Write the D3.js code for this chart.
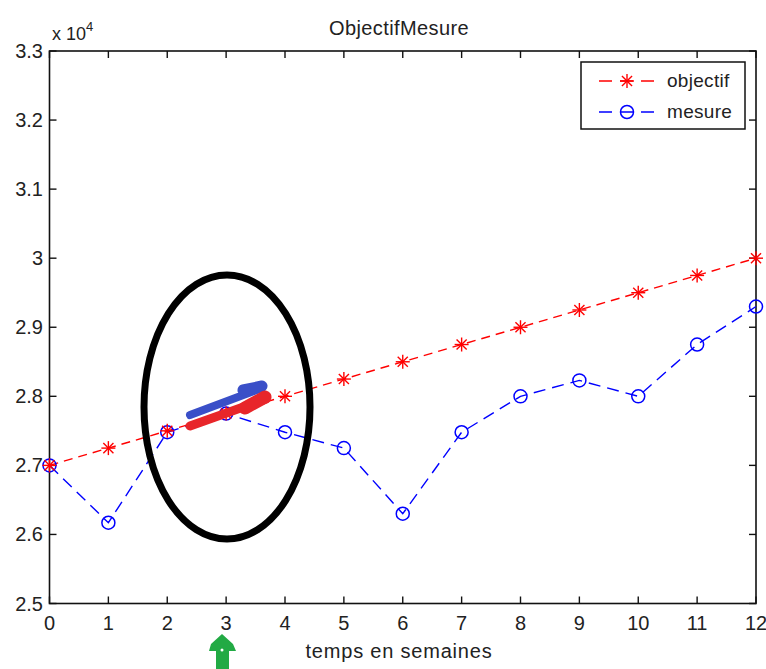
<!DOCTYPE html>
<html><head><meta charset="utf-8">
<script src="https://cdn.jsdelivr.net/npm/d3@7"></script>
<style>body{margin:0;background:#fff}svg{display:block}text{font-family:"Liberation Sans",Arial,sans-serif;fill:#222}</style>
</head><body><svg id="c" width="766" height="669"></svg>
<script>
const weeks = [0,1,2,3,4,5,6,7,8,9,10,11,12];
const objectif = [27000,27250,27500,27750,28000,28250,28500,28750,29000,29250,29500,29750,30000];
const mesure = [27000,26170,27480,27750,27480,27250,26300,27480,28000,28230,28000,28750,29300];
const yTicks = [25000,26000,27000,28000,29000,30000,31000,32000,33000];
const yTickLabels = ["2.5","2.6","2.7","2.8","2.9","3","3.1","3.2","3.3"];
const seriesNames = ["objectif","mesure"];
const colors = ["#ff0000","#0000ff"];

const svg = d3.select("#c");
const L=49.5, R=756, T=51, B=603.5;
const x = d3.scaleLinear().domain([0,12]).range([L,R]);
const y = d3.scaleLinear().domain([25000,33000]).range([B,T]);
const fs = 20;

// frame
svg.append("rect").attr("x",L).attr("y",T).attr("width",R-L).attr("height",B-T)
  .attr("fill","none").attr("stroke","#111").attr("stroke-width",1.6);

// ticks
const tk=7;
weeks.forEach(w=>{
  svg.append("line").attr("x1",x(w)).attr("x2",x(w)).attr("y1",B).attr("y2",B-tk).attr("stroke","#111").attr("stroke-width",1.4);
  svg.append("line").attr("x1",x(w)).attr("x2",x(w)).attr("y1",T).attr("y2",T+tk).attr("stroke","#111").attr("stroke-width",1.4);
  svg.append("text").attr("x",x(w)).attr("y",630).attr("text-anchor","middle").attr("font-size",fs).text(w);
});
yTicks.forEach((v,i)=>{
  svg.append("line").attr("x1",L).attr("x2",L+tk).attr("y1",y(v)).attr("y2",y(v)).attr("stroke","#111").attr("stroke-width",1.4);
  svg.append("line").attr("x1",R).attr("x2",R-tk).attr("y1",y(v)).attr("y2",y(v)).attr("stroke","#111").attr("stroke-width",1.4);
  svg.append("text").attr("x",43).attr("y",y(v)+7).attr("text-anchor","end").attr("font-size",fs).text(yTickLabels[i]);
});
// exponent
const ex = svg.append("text").attr("x",52).attr("y",40).attr("font-size",18);
ex.append("tspan").text("x 10");
ex.append("tspan").attr("dy",-9).attr("font-size",13).text("4");

// title, xlabel
svg.append("text").attr("x",399).attr("y",35).attr("text-anchor","middle").attr("font-size",20).attr("letter-spacing",0.4).text("ObjectifMesure");
svg.append("text").attr("x",399).attr("y",658).attr("text-anchor","middle").attr("font-size",20).attr("letter-spacing",0.8).text("temps en semaines");

const line = d3.line().x((d,i)=>x(weeks[i])).y(d=>y(d));
function star(g,cx,cy,col){
  const r=7;
  [[0,1],[1,0],[0.72,0.72],[0.72,-0.72]].forEach(([a,b])=>{
    g.append("line").attr("x1",cx-a*r).attr("x2",cx+a*r).attr("y1",cy-b*r).attr("y2",cy+b*r).attr("stroke",col).attr("stroke-width",1.4);
  });
}
function circ(g,cx,cy,col){
  g.append("circle").attr("cx",cx).attr("cy",cy).attr("r",6.5).attr("fill","none").attr("stroke",col).attr("stroke-width",1.5);
}
const g = svg.append("g");
g.append("path").attr("d",line(mesure)).attr("fill","none").attr("stroke",colors[1]).attr("stroke-width",1.4).attr("stroke-dasharray","12,7");
g.append("path").attr("d",line(objectif)).attr("fill","none").attr("stroke",colors[0]).attr("stroke-width",1.4).attr("stroke-dasharray","9,6");
mesure.forEach((v,i)=>circ(g,x(weeks[i]),y(v),colors[1]));
objectif.forEach((v,i)=>star(g,x(weeks[i]),y(v),colors[0]));

// legend
const lg = svg.append("g");
lg.append("rect").attr("x",581).attr("y",62).attr("width",164).attr("height",67).attr("fill","#fff").attr("stroke","#111").attr("stroke-width",1.5);
seriesNames.forEach((n,i)=>{
  const yy = 81 + i*31;
  lg.append("line").attr("x1",599).attr("x2",659).attr("y1",yy).attr("y2",yy).attr("stroke",colors[i]).attr("stroke-width",1.4).attr("stroke-dasharray","13,8");
  if(i===0) star(lg,627,yy,colors[0]); else circ(lg,627,yy,colors[1]);
  lg.append("text").attr("x",667).attr("y",yy+6).attr("font-size",19).attr("letter-spacing",0.3).text(n);
});

// hand-drawn annotations
const ann = svg.append("g");
ann.append("ellipse").attr("cx",227).attr("cy",407).attr("rx",83).attr("ry",132).attr("fill","none").attr("stroke","#000").attr("stroke-width",7);
ann.append("path").attr("d","M190,415 L262,388").attr("stroke","#3a4fc8").attr("stroke-width",8).attr("stroke-linecap","round");
ann.append("path").attr("d","M243,390 L262,386").attr("stroke","#3a4fc8").attr("stroke-width",11).attr("stroke-linecap","round");
ann.append("path").attr("d","M190,426 L266,399").attr("stroke","#e8262a").attr("stroke-width",9).attr("stroke-linecap","round");
ann.append("path").attr("d","M245,408 L265,397").attr("stroke","#e8262a").attr("stroke-width",13).attr("stroke-linecap","round");
// green arrow
ann.append("path").attr("d","M222,634 L233,644 L236,651 L229,651 L229,669 L216,669 L216,651 L209,651 L211,644 Z")
  .attr("fill","#22aa44");
ann.append("circle").attr("cx",222).attr("cy",650).attr("r",1.5).attr("fill","#fff");
</script></body></html>
